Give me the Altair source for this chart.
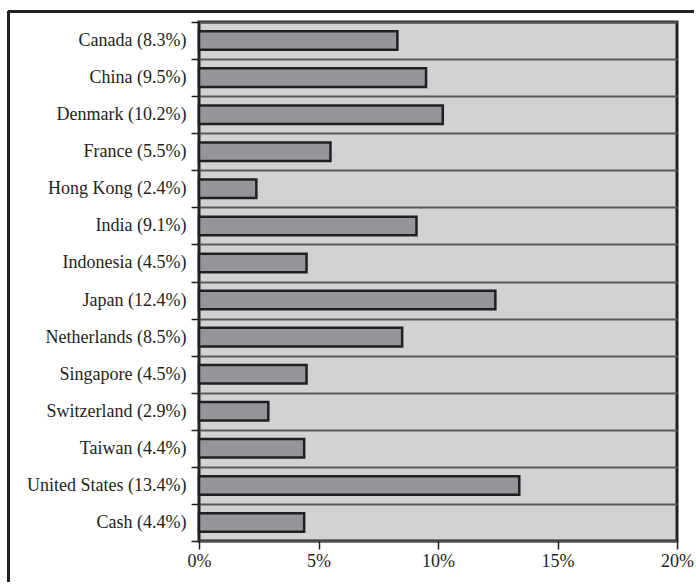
import altair as alt
import pandas as pd

countries = ["Canada", "China", "Denmark", "France", "Hong Kong", "India", "Indonesia",
             "Japan", "Netherlands", "Singapore", "Switzerland", "Taiwan", "United States", "Cash"]
weights = [8.3, 9.5, 10.2, 5.5, 2.4, 9.1, 4.5, 12.4, 8.5, 4.5, 2.9, 4.4, 13.4, 4.4]
x_ticks = [0, 5, 10, 15, 20]

labels = [f"{c} ({w}%)" for c, w in zip(countries, weights)]
df = pd.DataFrame({"label": labels, "weight": weights})

DARK = "#231f20"
FONT = "Liberation Serif"

y_enc = alt.Y("label:N", sort=labels, title=None,
              scale=alt.Scale(paddingInner=0, paddingOuter=0),
              axis=alt.Axis(tickBand="extent", tickSize=8, tickWidth=1.5, tickColor=DARK,
                            labelPadding=5, labelFontSize=18, labelFont=FONT,
                            labelColor=DARK, domain=False, grid=True,
                            gridColor="#58595b", gridWidth=2))
x_enc = alt.X("weight:Q", title=None,
              scale=alt.Scale(domain=[0, 20], nice=False),
              axis=alt.Axis(values=x_ticks, labelExpr="datum.value + '%'", tickSize=8,
                            tickWidth=1.5, tickColor=DARK, labelPadding=3,
                            labelFlush=False,
                            labelFontSize=18, labelFont=FONT, labelColor=DARK,
                            domain=False, grid=False))

bars = alt.Chart(df).mark_bar(
    height=alt.RelativeBandSize(band=0.5), fill="#939598", stroke=DARK, strokeWidth=2.5
).encode(x=x_enc, y=y_enc)

frame_left = alt.Chart(df).mark_rule(color=DARK, strokeWidth=3).encode(
    x=alt.value(-190.5), y=alt.value(-10.5), y2=alt.value(560))
frame_top = alt.Chart(df).mark_rule(color=DARK, strokeWidth=3).encode(
    x=alt.value(-190.5), x2=alt.value(495), y=alt.value(-10.5))

chart = alt.layer(bars, frame_left, frame_top).properties(
    width=478, height=519,
    padding={"left": 7, "top": 10, "right": 0, "bottom": 0},
    background="white",
).configure_view(fill="#d1d2d4", stroke=DARK, strokeWidth=3)

chart.save("out.html", embed_options={"renderer": "svg", "actions": False})
